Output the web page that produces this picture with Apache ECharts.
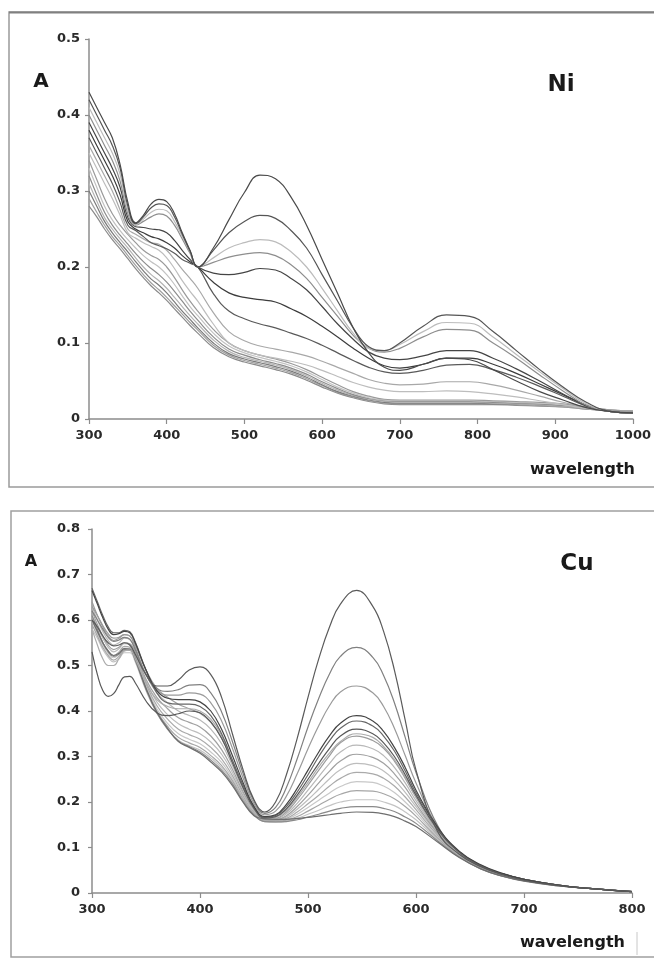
<!DOCTYPE html>
<html><head><meta charset="utf-8">
<script src="https://cdn.jsdelivr.net/npm/echarts@6/dist/echarts.min.js"></script>
<style>html,body{margin:0;padding:0;background:#fff}#c{width:654px;height:959px}</style>
</head><body><div id="c"></div>
<script>
// ---------- Ni panel ----------
const niWave = [300,310,320,330,340,350,360,370,380,390,400,410,420,430,440,460,480,500,520,540,560,580,600,620,640,660,680,700,730,760,790,820,850,880,910,940,970,1000];
const niA1 = [.43,.41,.39,.37,.335,.285,.258,.268,.283,.289,.286,.27,.245,.222,.2,.225,.262,.298,.321,.316,.292,.255,.21,.165,.12,.087,.068,.064,.072,.08,.078,.065,.05,.036,.025,.015,.01,.008];
const niA2 = [.42,.40,.38,.36,.33,.28,.257,.266,.278,.283,.281,.266,.243,.221,.2,.222,.245,.26,.268,.264,.248,.225,.19,.155,.12,.095,.09,.1,.122,.137,.135,.115,.09,.065,.042,.022,.01,.008];
const niA3 = [.41,.39,.37,.35,.322,.275,.256,.263,.272,.276,.274,.26,.24,.22,.2,.212,.225,.232,.236,.233,.22,.2,.172,.142,.113,.093,.09,.098,.115,.127,.126,.108,.085,.062,.04,.02,.01,.008];
const niA4 = [.40,.38,.36,.34,.313,.27,.255,.26,.266,.27,.267,.255,.237,.218,.2,.206,.213,.217,.219,.215,.203,.185,.16,.135,.11,.093,.088,.093,.108,.118,.117,.1,.08,.058,.037,.018,.01,.008];
const niA5 = [.39,.37,.35,.33,.305,.265,.253,.252,.25,.249,.245,.235,.222,.21,.2,.192,.19,.193,.198,.196,.185,.17,.148,.125,.105,.088,.08,.078,.083,.09,.09,.08,.066,.05,.033,.018,.01,.008];
const niB1 = [.38,.36,.34,.32,.295,.26,.25,.245,.24,.237,.232,.225,.215,.207,.2,.18,.166,.16,.157,.154,.145,.135,.122,.108,.093,.08,.07,.067,.072,.08,.08,.072,.06,.046,.032,.018,.01,.008];
const niB2 = [.37,.35,.33,.31,.285,.255,.248,.24,.232,.228,.224,.218,.21,.205,.2,.165,.142,.132,.125,.12,.113,.106,.097,.087,.077,.068,.062,.06,.064,.071,.072,.065,.055,.043,.03,.017,.01,.008];
const niB3 = [.36,.34,.32,.30,.275,.25,.243,.237,.232,.23,.222,.21,.197,.185,.172,.14,.115,.103,.096,.092,.088,.083,.076,.068,.06,.052,.047,.045,.046,.049,.049,.045,.038,.03,.022,.015,.01,.008];
const niB4 = [.35,.33,.31,.29,.268,.245,.238,.232,.227,.222,.212,.198,.182,.168,.155,.125,.1,.09,.084,.08,.076,.071,.064,.056,.048,.042,.038,.036,.036,.037,.036,.033,.029,.024,.019,.014,.01,.008];
const niC1 = [.34,.315,.29,.27,.255,.243,.232,.222,.215,.21,.2,.186,.17,.155,.142,.118,.1,.09,.084,.079,.073,.065,.055,.045,.036,.03,.026,.025,.025,.025,.025,.024,.023,.022,.02,.016,.012,.01];
const niC2 = [.33,.305,.28,.262,.248,.236,.225,.215,.207,.2,.19,.177,.162,.148,.136,.113,.096,.087,.081,.076,.07,.062,.052,.042,.034,.028,.025,.024,.024,.024,.024,.023,.022,.021,.019,.015,.012,.01];
const niC3 = [.32,.295,.272,.255,.242,.23,.218,.207,.198,.19,.18,.168,.155,.142,.13,.108,.092,.084,.078,.073,.067,.059,.049,.04,.032,.027,.024,.023,.023,.023,.023,.022,.021,.02,.018,.015,.012,.01];
const niC4 = [.31,.287,.265,.25,.237,.225,.212,.2,.19,.182,.172,.16,.148,.136,.125,.104,.089,.081,.076,.071,.065,.057,.047,.038,.031,.026,.023,.022,.022,.022,.022,.021,.02,.019,.017,.014,.011,.01];
const niC5 = [.30,.28,.26,.245,.232,.22,.207,.195,.184,.176,.166,.154,.142,.131,.12,.1,.086,.079,.074,.069,.063,.055,.045,.036,.03,.025,.022,.021,.021,.021,.021,.02,.02,.019,.017,.014,.011,.01];
const niC6 = [.29,.272,.255,.24,.228,.215,.202,.19,.179,.17,.16,.149,.138,.127,.117,.097,.084,.077,.072,.067,.061,.053,.044,.035,.029,.024,.021,.02,.02,.02,.02,.02,.019,.018,.016,.013,.011,.01];
const niC7 = [.28,.266,.25,.236,.224,.211,.198,.186,.175,.166,.156,.145,.134,.123,.113,.094,.082,.075,.07,.065,.059,.051,.042,.034,.028,.023,.02,.019,.019,.019,.019,.019,.018,.017,.016,.013,.011,.01];
const niCurves = [niC7,niC6,niC5,niC4,niC3,niC2,niC1,niB4,niB3,niB2,niB1,niA5,niA4,niA3,niA2,niA1];
const niColors = ['#8a8a8a','#a0a0a0','#7a7a7a','#b4b4b4','#8c8c8c','#c2c2c2','#9a9a9a','#bdbdbd','#a8a8a8','#5a5a5a','#3c3c3c','#454545','#8e8e8e','#bcbcbc','#555555','#4a4a4a'];
const niXTicks = [300,400,500,600,700,800,900,1000];
const niYTicks = ['0','0.1','0.2','0.3','0.4','0.5'];

// ---------- Cu panel ----------
const cuWave = [300,305,310,315,320,325,330,335,340,350,360,370,380,390,400,410,420,430,440,450,460,470,480,490,500,510,520,530,545,560,570,580,590,600,620,640,660,680,700,730,760,800];
const cuK1 = [.60,.585,.565,.55,.543,.545,.55,.545,.525,.48,.455,.455,.468,.49,.497,.48,.43,.35,.27,.205,.178,.2,.26,.34,.43,.515,.585,.635,.665,.63,.575,.49,.38,.27,.135,.085,.058,.04,.028,.017,.01,.003];
const cuK2 = [.62,.60,.58,.562,.553,.556,.562,.558,.535,.48,.45,.443,.447,.457,.458,.44,.398,.333,.262,.202,.175,.188,.232,.295,.365,.428,.482,.52,.54,.518,.478,.418,.342,.265,.148,.09,.06,.042,.03,.018,.01,.003];
const cuK3 = [.63,.61,.588,.57,.56,.562,.568,.565,.54,.48,.447,.435,.435,.44,.437,.418,.378,.318,.252,.196,.172,.18,.213,.262,.317,.368,.412,.442,.455,.44,.41,.362,.302,.242,.145,.09,.06,.042,.03,.018,.01,.003];
const cuK4 = [.665,.635,.605,.58,.568,.57,.575,.572,.55,.49,.445,.428,.425,.425,.42,.40,.36,.302,.242,.19,.168,.172,.195,.23,.27,.31,.346,.373,.39,.378,.355,.32,.276,.226,.145,.092,.062,.043,.03,.018,.01,.003];
const cuK5 = [.67,.64,.61,.585,.572,.572,.577,.574,.552,.49,.44,.418,.415,.415,.41,.39,.35,.292,.236,.188,.166,.17,.19,.222,.26,.30,.335,.362,.378,.367,.345,.312,.268,.22,.143,.09,.061,.042,.03,.018,.01,.003];
const cuK6 = [.53,.48,.445,.432,.438,.458,.475,.476,.462,.422,.396,.39,.394,.40,.396,.376,.34,.286,.231,.186,.165,.168,.185,.215,.25,.285,.318,.345,.36,.35,.33,.30,.26,.215,.14,.09,.06,.042,.03,.018,.01,.003];
const cuK7 = [.58,.545,.515,.50,.50,.515,.532,.534,.515,.462,.425,.41,.405,.405,.40,.382,.346,.29,.234,.188,.166,.167,.182,.21,.243,.277,.308,.333,.35,.342,.322,.293,.255,.212,.139,.09,.06,.042,.03,.018,.01,.003];
const cuL1 = [.64,.61,.585,.565,.555,.56,.568,.565,.545,.49,.45,.43,.415,.405,.395,.375,.34,.29,.235,.19,.166,.165,.178,.205,.237,.27,.302,.33,.345,.335,.318,.29,.252,.21,.138,.09,.06,.042,.03,.018,.01,.003];
const cuL2 = [.63,.60,.575,.555,.545,.55,.56,.557,.537,.48,.44,.418,.40,.39,.38,.36,.328,.28,.228,.186,.164,.163,.174,.197,.226,.256,.285,.31,.325,.317,.302,.276,.242,.203,.135,.088,.059,.041,.029,.018,.01,.003];
const cuL3 = [.62,.59,.565,.545,.535,.54,.55,.548,.53,.47,.43,.405,.385,.375,.365,.345,.315,.272,.222,.183,.162,.161,.17,.19,.215,.242,.268,.29,.305,.298,.285,.262,.232,.196,.132,.086,.058,.04,.029,.017,.01,.003];
const cuL4 = [.61,.585,.56,.54,.53,.537,.548,.545,.525,.465,.42,.392,.372,.36,.35,.332,.305,.265,.218,.18,.161,.16,.167,.184,.205,.228,.251,.271,.285,.28,.268,.248,.221,.19,.13,.085,.057,.04,.028,.017,.01,.003];
const cuL5 = [.60,.575,.55,.532,.522,.53,.542,.54,.52,.46,.412,.382,.36,.348,.338,.32,.295,.258,.213,.177,.16,.159,.164,.178,.196,.215,.235,.252,.265,.262,.252,.235,.211,.183,.127,.084,.056,.039,.028,.017,.01,.003];
const cuL6 = [.60,.57,.545,.527,.517,.525,.538,.537,.517,.455,.405,.373,.35,.338,.328,.31,.287,.252,.209,.175,.159,.158,.162,.173,.188,.204,.22,.234,.245,.243,.235,.221,.20,.176,.124,.082,.055,.038,.027,.017,.01,.003];
const cuL7 = [.59,.565,.54,.522,.512,.52,.533,.533,.513,.45,.40,.366,.342,.33,.32,.302,.28,.247,.206,.173,.158,.157,.16,.168,.18,.193,.206,.217,.225,.224,.218,.207,.19,.169,.121,.081,.054,.038,.027,.017,.01,.003];
const cuL8 = [.58,.56,.535,.518,.508,.515,.528,.528,.508,.445,.395,.36,.336,.324,.314,.297,.275,.243,.203,.172,.157,.156,.158,.164,.173,.182,.192,.20,.205,.205,.20,.192,.178,.161,.118,.08,.054,.037,.027,.016,.01,.003];
const cuL9 = [.61,.58,.55,.53,.52,.525,.535,.534,.512,.448,.396,.36,.334,.322,.31,.292,.27,.24,.201,.171,.157,.156,.157,.161,.167,.173,.18,.186,.19,.19,.186,.179,.167,.153,.115,.079,.053,.037,.027,.016,.01,.003];
const cuL10 = [.60,.575,.55,.532,.522,.527,.537,.536,.515,.45,.398,.362,.333,.32,.307,.288,.266,.236,.199,.17,.163,.162,.162,.164,.166,.169,.172,.175,.178,.177,.174,.168,.158,.146,.112,.078,.053,.037,.026,.016,.01,.003];
const cuCurves = [cuL8,cuL6,cuL4,cuL2,cuL7,cuL5,cuL3,cuL1,cuL9,cuL10,cuK7,cuK3,cuK2,cuK6,cuK5,cuK4,cuK1];
const cuColors = ['#c4c4c4','#c8c8c8','#bdbdbd','#b8b8b8','#a6a6a6','#aaaaaa','#a0a0a0','#9c9c9c','#8a8a8a','#6e6e6e','#acacac','#9a9a9a','#808080','#585858','#666666','#444444','#5a5a5a'];
const cuXTicks = [300,400,500,600,700,800];
const cuYTicks = ['0','0.1','0.2','0.3','0.4','0.5','0.6','0.7','0.8'];

const FONT = 'DejaVu Sans';
function pairs(w, v){ return w.map((x,i)=>[x, v[i]]); }
function axisX(idx, min, max){
  return {type:'value', gridIndex:idx, min:min, max:max, interval:100,
    axisLine:{show:true, onZero:false, lineStyle:{color:'#8c8c8c', width:1.5}},
    axisTick:{show:true, length:5, lineStyle:{color:'#8c8c8c', width:1.2}},
    axisLabel:{margin:10, color:'#2a2a2a', fontFamily:FONT, fontWeight:'bold', fontSize:13,
      formatter:v=>String(Math.round(v))},
    splitLine:{show:false}};
}
function axisY(idx, max, margin){
  return {type:'value', gridIndex:idx, min:0, max:max, interval:0.1,
    axisLine:{show:true, lineStyle:{color:'#8c8c8c', width:1.5}},
    axisTick:{show:true, length:4, lineStyle:{color:'#8c8c8c', width:1.2}},
    axisLabel:{margin:margin, color:'#2a2a2a', fontFamily:FONT, fontWeight:'bold', fontSize:13,
      formatter:v=>{const s=Math.round(v*10)/10; return s===0?'0':s.toFixed(1);}},
    splitLine:{show:false}};
}
const series = [];
niCurves.forEach((c,i)=>series.push({type:'line', xAxisIndex:0, yAxisIndex:0, data:pairs(niWave,c), showSymbol:false, smooth:0.45, silent:true,
  lineStyle:{color:niColors[i], width:1.2}}));
cuCurves.forEach((c,i)=>series.push({type:'line', xAxisIndex:1, yAxisIndex:1, data:pairs(cuWave,c), showSymbol:false, smooth:0.45, silent:true,
  lineStyle:{color:cuColors[i], width:1.2}}));

const chart = echarts.init(document.getElementById('c'), null, {renderer:'canvas'});
chart.setOption({
  animation:false,
  backgroundColor:'#ffffff',
  grid:[{left:89, top:39, width:544, height:380}, {left:92, top:529, width:540, height:364}],
  xAxis:[axisX(0,300,1000), axisX(1,300,800)],
  yAxis:[axisY(0,0.5,9), axisY(1,0.8,12)],
  series:series,
  graphic:[
    {type:'rect', shape:{x:9, y:12, width:680, height:475}, style:{fill:'none', stroke:'#9a9a9a', lineWidth:1.5}, silent:true},
    {type:'line', shape:{x1:9, y1:12.5, x2:654, y2:12.5}, style:{stroke:'#808080', lineWidth:2}, silent:true},
    {type:'rect', shape:{x:11, y:511, width:680, height:446}, style:{fill:'none', stroke:'#a0a0a0', lineWidth:1.5}, silent:true},
    {type:'line', shape:{x1:637, y1:932, x2:637, y2:955}, style:{stroke:'#c8c8c8', lineWidth:1}, silent:true},
    {type:'text', x:41, y:82, style:{text:'A', font:'bold 20px "DejaVu Sans"', fill:'#1a1a1a', align:'center', verticalAlign:'middle'}},
    {type:'text', x:561, y:85, style:{text:'Ni', font:'bold 23px "DejaVu Sans"', fill:'#1a1a1a', align:'center', verticalAlign:'middle'}},
    {type:'text', x:635, y:470, style:{text:'wavelength', font:'bold 16px "DejaVu Sans"', fill:'#1a1a1a', align:'right', verticalAlign:'middle'}},
    {type:'text', x:31, y:562, style:{text:'A', font:'bold 16px "DejaVu Sans"', fill:'#1a1a1a', align:'center', verticalAlign:'middle'}},
    {type:'text', x:577, y:564, style:{text:'Cu', font:'bold 23px "DejaVu Sans"', fill:'#1a1a1a', align:'center', verticalAlign:'middle'}},
    {type:'text', x:625, y:943, style:{text:'wavelength', font:'bold 16px "DejaVu Sans"', fill:'#1a1a1a', align:'right', verticalAlign:'middle'}}
  ]
});
</script></body></html>
